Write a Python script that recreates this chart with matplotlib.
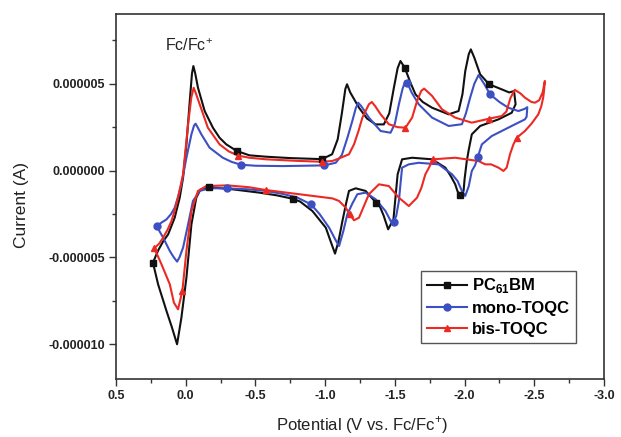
import numpy as np
import matplotlib
matplotlib.use("Agg")
import matplotlib.pyplot as plt
from matplotlib.lines import Line2D
from matplotlib.ticker import MultipleLocator, FuncFormatter

plt.rcParams['font.family'] = ['Liberation Sans', 'DejaVu Sans']
plt.rcParams['mathtext.fontset'] = 'custom'
plt.rcParams['mathtext.rm'] = 'Liberation Sans'
plt.rcParams['mathtext.bf'] = 'Liberation Sans:bold'

# potential (V vs Fc/Fc+) and current (microamp), one closed CV loop per compound
pc_v = [0.235, 0.198, 0.16, 0.126, 0.079, 0.043, 0.019, -0.005, -0.029, -0.045, -0.055,
        -0.068, -0.088, -0.136, -0.195, -0.243, -0.291, -0.366, -0.457, -0.576, -0.75,
        -0.977, -1.05, -1.09, -1.12, -1.145, -1.157, -1.18, -1.243, -1.30, -1.362, -1.421,
        -1.46, -1.493, -1.52, -1.54, -1.571, -1.61, -1.648, -1.70, -1.767, -1.886, -1.957,
        -1.985, -2.005, -2.03, -2.045, -2.07, -2.112, -2.176, -2.266, -2.32, -2.355,
        -2.366, -2.338, -2.243, -2.112, -2.052, -2.03, -2.016, -2.0, -1.993, -1.969,
        -1.95, -1.933, -1.90, -1.862, -1.767, -1.624, -1.552, -1.52, -1.505, -1.49,
        -1.452, -1.42, -1.386, -1.366, -1.29, -1.219, -1.171, -1.15, -1.124, -1.095,
        -1.071, -1.045, -1.005, -0.909, -0.82, -0.767, -0.65, -0.529, -0.338, -0.165,
        -0.105, -0.076, -0.041, -0.005, 0.031, 0.062, 0.10, 0.138, 0.198, 0.235]
pc_i = [-5.3, -4.6, -4.05, -3.67, -2.71, -1.56, -0.41, 1.51, 4.0, 5.6, 6.02,
        5.6, 4.77, 3.43, 2.47, 1.89, 1.51, 1.13, 0.88, 0.80, 0.72,
        0.66, 0.94, 1.8, 3.3, 4.7, 4.97, 4.5, 3.62, 3.0, 2.66, 2.66,
        3.3, 4.77, 5.9, 6.31, 5.93, 5.1, 4.39, 3.95, 3.62, 3.24, 3.43,
        4.4, 5.73, 6.7, 6.98, 6.5, 5.54, 4.97, 4.68, 4.5, 4.58,
        3.82, 3.33, 2.95, 2.57, 2.09, 1.2, 0.55, -0.5, -1.17, -1.40,
        -1.2, -0.79, -0.3, 0.17, 0.65, 0.74, 0.65, -0.21, -1.5, -2.8,
        -3.38, -2.6, -1.94, -1.85, -1.17, -1.02, -1.17, -1.9, -2.9, -4.1,
        -4.78, -4.2, -3.29, -2.33, -1.78, -1.62, -1.42, -1.27, -1.08, -0.95,
        -1.1, -1.56, -3.09, -6.17, -8.47, -10.0, -9.0, -8.08, -6.55, -5.3]
pc_mark_v = [0.235, -0.366, -0.977, -1.571, -2.176, -1.969, -1.366, -0.767, -0.165]
pc_mark_i = [-5.3, 1.13, 0.66, 5.93, 4.97, -1.40, -1.85, -1.62, -0.95]

mono_v = [0.209, 0.175, 0.138, 0.105, 0.079, 0.055, 0.031, -0.005, -0.041, -0.06, -0.071,
          -0.085, -0.112, -0.171, -0.266, -0.33, -0.395, -0.5, -0.695, -0.85, -0.993,
          -1.076, -1.12, -1.16, -1.195, -1.22, -1.237, -1.26, -1.314, -1.398, -1.469,
          -1.50, -1.529, -1.555, -1.575, -1.59, -1.62, -1.671, -1.767, -1.886, -1.981,
          -2.01, -2.04, -2.07, -2.10, -2.14, -2.183, -2.25, -2.314, -2.386, -2.43, -2.45,
          -2.445, -2.433, -2.338, -2.195, -2.124, -2.095, -2.075, -2.052, -2.03, -2.005,
          -1.981, -1.95, -1.91, -1.814, -1.671, -1.6, -1.552, -1.54, -1.529, -1.51,
          -1.493, -1.47, -1.433, -1.362, -1.29, -1.231, -1.195, -1.159, -1.13, -1.1,
          -1.075, -1.029, -0.96, -0.898, -0.8, -0.7, -0.576, -0.45, -0.295, -0.171,
          -0.1, -0.052, -0.017, 0.019, 0.045, 0.062, 0.085, 0.114, 0.162, 0.209]
mono_i = [-3.19, -3.0, -2.81, -2.5, -2.14, -1.5, -0.79, 0.74, 2.09, 2.6, 2.7,
          2.5, 2.09, 1.32, 0.74, 0.5, 0.34, 0.28, 0.26, 0.28, 0.3,
          0.45, 0.9, 1.9, 2.86, 3.6, 3.91, 3.7, 3.05, 2.28, 2.18,
          2.7, 3.82, 4.7, 5.15, 5.05, 4.5, 3.82, 3.05, 2.57, 2.67,
          3.3, 4.2, 5.0, 5.5, 5.0, 4.39, 3.95, 3.62, 3.43, 3.55, 3.65,
          3.1, 2.95, 2.57, 1.99, 1.51, 0.78, 0.3, -0.02, -0.9, -1.46,
          -1.17, -0.6, -0.21, 0.36, 0.45, 0.36, 0.17, -0.8, -1.75, -2.6,
          -2.94, -2.9, -2.33, -1.65, -1.27, -1.36, -1.9, -2.52, -3.5, -4.34,
          -4.0, -3.29, -2.5, -1.94, -1.55, -1.35, -1.17, -1.08, -1.02, -1.02,
          -1.17, -1.75, -3.09, -4.44, -5.0, -5.24, -5.0, -4.63, -3.86, -3.19]
mono_mark_v = [0.209, -0.395, -0.993, -1.59, -2.183, -2.095, -1.493, -0.898, -0.295]
mono_mark_i = [-3.19, 0.34, 0.3, 5.05, 4.39, 0.78, -2.94, -1.94, -1.02]

bis_v = [0.225, 0.19, 0.162, 0.13, 0.102, 0.079, 0.055, 0.019, -0.017, -0.04, -0.057,
         -0.075, -0.1, -0.159, -0.243, -0.31, -0.378, -0.457, -0.576, -0.8, -0.976,
         -1.05, -1.1, -1.171, -1.207, -1.24, -1.267, -1.314, -1.335, -1.36, -1.398,
         -1.457, -1.52, -1.576, -1.624, -1.659, -1.69, -1.71, -1.767, -1.838, -1.933,
         -2.052, -2.176, -2.266, -2.30, -2.33, -2.36, -2.40, -2.433, -2.48, -2.505,
         -2.535, -2.56, -2.576,
         -2.57, -2.564, -2.55, -2.529, -2.48, -2.433, -2.374, -2.35, -2.326, -2.302,
         -2.279, -2.243, -2.19, -2.148, -2.1, -1.933, -1.774, -1.74, -1.719, -1.69,
         -1.659, -1.6, -1.529, -1.457, -1.386, -1.314, -1.243, -1.207, -1.176, -1.148,
         -1.1, -1.052, -0.814, -0.576, -0.457, -0.3, -0.148, -0.088, -0.041, -0.005,
         0.024, 0.055, 0.085, 0.114, 0.174, 0.225]
bis_i = [-4.47, -4.2, -3.86, -3.4, -2.9, -2.3, -1.56, -0.21, 2.67, 4.2, 4.77,
         4.4, 3.82, 2.47, 1.51, 1.1, 0.86, 0.74, 0.65, 0.56, 0.51,
         0.55, 0.7, 0.94, 1.51, 2.3, 3.05, 3.82, 3.95, 3.7, 3.24,
         2.67, 2.5, 2.47, 3.05, 4.0, 4.6, 4.72, 4.3, 3.53, 3.05,
         2.76, 2.99, 3.14, 3.4, 4.2, 4.65, 4.45, 4.2, 3.95, 3.91,
         4.05, 4.5, 5.16,
         4.6, 4.2, 3.7, 3.24, 2.7, 2.28, 1.89, 1.5, 0.94, 0.17,
         -0.02, 0.17, 0.36, 0.36, 0.55, 0.74, 0.65, 0.1, -0.21, -1.0,
         -1.56, -2.04, -1.56, -0.89, -0.79, -1.36, -2.71, -2.86, -2.52, -2.14,
         -1.75, -1.6, -1.36, -1.12, -0.96, -0.85, -0.89, -1.17, -2.33, -4.63,
         -6.93, -7.99, -7.6, -6.55, -5.39, -4.47]
bis_mark_v = [0.225, -0.378, -0.976, -1.576, -2.176, -2.374, -1.774, -1.176, -0.576, 0.024]
bis_mark_i = [-4.47, 0.86, 0.51, 2.47, 2.99, 1.89, 0.65, -2.52, -1.12, -6.93]

series = [
    ('PC$_{\\mathbf{61}}$BM', pc_v, pc_i, pc_mark_v, pc_mark_i, '#111111', 's'),
    ('mono-TOQC', mono_v, mono_i, mono_mark_v, mono_mark_i, '#3c50c4', 'o'),
    ('bis-TOQC', bis_v, bis_i, bis_mark_v, bis_mark_i, '#ec2a24', '^'),
]

fig = plt.figure(figsize=(6.21, 4.37), dpi=100)
ax = fig.add_axes([0.1868, 0.1327, 0.7858, 0.8346])

handles = []
for label, v, i, mv, mi, color, mk in series:
    ax.plot(v, np.array(i) * 1e-6, color=color, lw=1.5, zorder=2)
    ax.plot(mv, np.array(mi) * 1e-6, ls='none', marker=mk, color=color, ms=5, zorder=3)
    handles.append(Line2D([0], [0], color=color, lw=1.5, marker=mk, ms=5, label=label))

ax.set_xlim(0.5, -3.0)
ax.set_ylim(-1.2e-5, 9e-6)
ax.xaxis.set_major_locator(MultipleLocator(0.5))
ax.xaxis.set_minor_locator(MultipleLocator(0.25))
ax.yaxis.set_major_locator(MultipleLocator(5e-6))
ax.yaxis.set_minor_locator(MultipleLocator(2.5e-6))
ax.xaxis.set_major_formatter(FuncFormatter(lambda x, p: '%.1f' % x))
ax.yaxis.set_major_formatter(FuncFormatter(lambda y, p: '%.6f' % y))

ax.tick_params(which='both', direction='out', top=False, right=False, color='#333333', width=1)
ax.tick_params(which='major', length=5, labelsize=9, labelcolor='#222222', pad=3)
ax.tick_params(which='minor', length=3)
for lab in ax.get_xticklabels() + ax.get_yticklabels():
    lab.set_fontweight('bold')
for sp in ax.spines.values():
    sp.set_linewidth(1.2)
    sp.set_color('#333333')

ax.set_xlabel('Potential (V vs. Fc/Fc$^{+}$)', fontsize=12, color='#222222')
ax.set_ylabel('Current (A)', fontsize=12.5, color='#222222')
ax.xaxis.set_label_coords(0.504, -0.098)
ax.yaxis.set_label_coords(-0.178, 0.477)

ax.text(0.15, 7.2e-6, 'Fc/Fc$^{+}$', fontsize=11.5, va='center', ha='left', color='#222222')

leg = ax.legend(handles=handles, loc='lower left', bbox_to_anchor=(0.625, 0.099),
                prop={'weight': 'bold', 'size': 12}, frameon=True, fancybox=False,
                edgecolor='#555555', framealpha=1, handlelength=2.4, handletextpad=0.3,
                labelspacing=0.35, borderpad=0.35, borderaxespad=0)
leg.get_frame().set_linewidth(1.0)

fig.savefig('out.png', dpi=100)
